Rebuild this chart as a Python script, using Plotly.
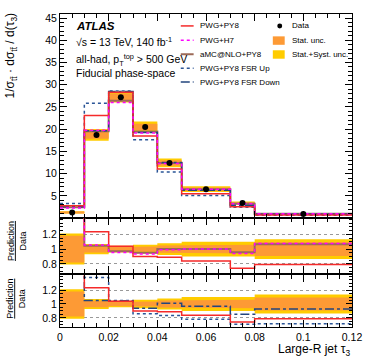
import plotly.graph_objects as go

# ---------------- data ----------------
edges = [0, 0.01, 0.02, 0.03, 0.04, 0.05, 0.07, 0.08, 0.12]
centers = [0.005, 0.015, 0.025, 0.035, 0.045, 0.06, 0.075, 0.10]
data = [1.27, 18.7, 27.2, 20.5, 12.4, 6.5, 3.4, 0.9]
stat_rel = [0.18, 0.045, 0.03, 0.035, 0.05, 0.055, 0.06, 0.095]
tot_rel = [0.21, 0.07, 0.045, 0.06, 0.08, 0.10, 0.10, 0.135]

pwg_py8 = [2.79, 23.09, 28.29, 18.45, 11.04, 5.46, 2.52, 0.711]
pwg_h7 = [2.29, 19.77, 25.98, 19.13, 12.28, 6.50, 3.20, 0.968]
amc_py8 = [2.41, 19.54, 26.38, 19.48, 12.40, 6.50, 3.25, 0.959]
fsr_up = [3.30, 25.81, 28.56, 17.63, 10.35, 5.07, 2.41, 0.645]
fsr_down = [2.54, 19.64, 28.48, 19.27, 12.52, 6.28, 2.90, 0.837]

main_ticks = [5, 10, 15, 20, 25, 30, 35, 40, 45]
ratio_ticks = [0.8, 1, 1.2]
x_ticks = [0, 0.02, 0.04, 0.06, 0.08, 0.1, 0.12]

C_RED = "#f52a2a"
C_MAG = "#ff00ff"
C_BRN = "#9c6a58"
C_UP = "#2b5597"
C_DN = "#23467e"
C_STAT = "#fd9a35"
C_SYST = "#ffcc00"

FONT = "Liberation Sans, Arial, sans-serif"

fig = go.Figure()


def step_xy(vals):
    return edges, list(vals) + [vals[-1]]


def band_poly(lo, hi):
    xs, ys = [], []
    for i in range(len(lo)):
        xs += [edges[i], edges[i + 1]]
        ys += [hi[i], hi[i]]
    for i in reversed(range(len(lo))):
        xs += [edges[i + 1], edges[i]]
        ys += [lo[i], lo[i]]
    return xs, ys


def add_band(rel, color, xa, ya, scale):
    lo = [s * (1 - r) for s, r in zip(scale, rel)]
    hi = [s * (1 + r) for s, r in zip(scale, rel)]
    xs, ys = band_poly(lo, hi)
    fig.add_trace(go.Scatter(x=xs, y=ys, fill="toself", fillcolor=color,
                             line=dict(width=0), mode="lines", xaxis=xa, yaxis=ya,
                             showlegend=False, hoverinfo="skip"))


def add_line(vals, color, dash, width, xa, ya):
    xs, ys = step_xy(vals)
    fig.add_trace(go.Scatter(x=xs, y=ys, mode="lines", line_shape="hv",
                             line=dict(color=color, dash=dash, width=width),
                             xaxis=xa, yaxis=ya, showlegend=False))


ones = [1.0] * len(data)

# main panel
add_band(tot_rel, C_SYST, "x", "y", data)
add_band(stat_rel, C_STAT, "x", "y", data)
add_line(amc_py8, C_BRN, "solid", 2, "x", "y")
add_line(fsr_up, C_UP, "dot", 1.5, "x", "y")
add_line(fsr_down, C_DN, "dashdot", 1.5, "x", "y")
add_line(pwg_py8, C_RED, "solid", 1.5, "x", "y")
add_line(pwg_h7, C_MAG, "dot", 1.5, "x", "y")
fig.add_trace(go.Scatter(x=centers, y=data, mode="markers",
                         marker=dict(color="black", size=6),
                         xaxis="x", yaxis="y", showlegend=False))


def ratio(p):
    return [a / b for a, b in zip(p, data)]


# ratio panel 1
add_band(tot_rel, C_SYST, "x2", "y2", ones)
add_band(stat_rel, C_STAT, "x2", "y2", ones)
add_line(ratio(amc_py8), C_BRN, "solid", 2, "x2", "y2")
add_line(ratio(pwg_py8), C_RED, "solid", 1.5, "x2", "y2")
add_line(ratio(pwg_h7), C_MAG, "dot", 1.5, "x2", "y2")

# ratio panel 2
add_band(tot_rel, C_SYST, "x3", "y3", ones)
add_band(stat_rel, C_STAT, "x3", "y3", ones)
add_line(ratio(fsr_up), C_UP, "dot", 1.5, "x3", "y3")
add_line(ratio(fsr_down), C_DN, "dashdot", 1.5, "x3", "y3")
add_line(ratio(pwg_py8), C_RED, "solid", 1.5, "x3", "y3")

axis_common = dict(showline=True, linecolor="black", linewidth=1, mirror="allticks",
                   ticks="inside", tickcolor="black", zeroline=False,
                   tickfont=dict(family=FONT, size=10.5, color="black"))


def xaxis(anchor, labels):
    d = dict(axis_common)
    d.update(range=[0, 0.12], anchor=anchor, tickvals=x_ticks, ticklen=7,
             showticklabels=labels, showgrid=False,
             minor=dict(ticks="inside", ticklen=4, dtick=0.005, tick0=0, tickcolor="black", showgrid=False))
    if labels:
        d["ticktext"] = ["0", "0.02", "0.04", "0.06", "0.08", "0.1", "0.12"]
    return d


def ratio_y(anchor, dom):
    d = dict(axis_common)
    d.update(range=[0.67, 1.42], domain=dom, anchor=anchor, tickvals=ratio_ticks,
             ticktext=["0.8", "1", "1.2"], ticklen=6, showgrid=True, gridcolor="#999999",
             griddash="dot", gridwidth=1,
             minor=dict(ticks="inside", ticklen=3, dtick=0.05, tick0=0, tickcolor="black", showgrid=False))
    return d


ymain = dict(axis_common)
ymain.update(range=[0, 45.9], domain=[0.348, 1], anchor="x", tickvals=main_ticks, ticklen=7,
             showgrid=False,
             minor=dict(ticks="inside", ticklen=4, dtick=1, tick0=0, tickcolor="black", showgrid=False))

fig.update_layout(
    width=374, height=363,
    margin=dict(l=60, r=19, t=12, b=36),
    paper_bgcolor="white", plot_bgcolor="white",
    font=dict(family=FONT, color="black"),
    xaxis=xaxis("y", False),
    xaxis2=xaxis("y2", False),
    xaxis3=xaxis("y3", True),
    yaxis=ymain,
    yaxis2=ratio_y("x2", [0.171, 0.348]),
    yaxis3=ratio_y("x3", [0.0, 0.167]),
    showlegend=False,
)
fig.layout.xaxis2.matches = "x"
fig.layout.xaxis3.matches = "x"


def px(x):
    return (x - 60) / 295


def py(y):
    return (327 - y) / 315


annots = []


def txt(x, y, s, size, xanchor="left", yanchor="middle", angle=0):
    annots.append(dict(x=x, y=y, xref="paper", yref="paper", text=s, showarrow=False,
                       xanchor=xanchor, yanchor=yanchor, textangle=angle,
                       font=dict(family=FONT, size=size, color="black")))


# top-left labels
txt(px(74), py(24), "<b><i>ATLAS</i></b>", 11.5)
txt(px(74), py(40), "√s = 13 TeV, 140 fb<sup>-1</sup>", 10.5)
txt(px(74), py(58), "all-had, p<sub>T</sub><sup>top</sup> > 500 GeV", 10.5)
txt(px(74), py(71.5), "Fiducial phase-space", 10.5)

# axis titles
txt(px(11), py(8), "1/σ<sub>tt̄</sub> · dσ<sub>tt̄</sub> / d(τ<sub>3</sub>)", 12,
    xanchor="center", yanchor="top", angle=-90)
txt(px(16), py(240), "<u>Prediction</u><br>Data", 9, xanchor="center", angle=-90)
txt(px(16), py(298), "<u>Prediction</u><br>Data", 9, xanchor="center", angle=-90)
txt(1.0, py(350), "Large-R jet τ<sub>3</sub>", 12, xanchor="right")

# legend (left column)
leg_rows = [24, 38.5, 52.5, 66.5, 80.5]
leg_items = [("PWG+PY8", C_RED, "solid", 1.5), ("PWG+H7", C_MAG, "dot", 1.5),
             ("aMC@NLO+PY8", C_BRN, "solid", 2), ("PWG+PY8 FSR Up", C_UP, "dot", 1.5),
             ("PWG+PY8 FSR Down", C_DN, "dashdot", 1.5)]
shapes = []
for (name, col, dash, w), r in zip(leg_items, leg_rows):
    shapes.append(dict(type="line", xref="paper", yref="paper", x0=px(182), x1=px(195),
                       y0=py(r), y1=py(r), line=dict(color=col, dash=dash, width=w)))
    txt(px(199), py(r), name, 8)

# legend (right column)
shapes.append(dict(type="circle", xref="paper", yref="paper", x0=px(279.5), x1=px(284.5),
                   y0=py(21.5), y1=py(26.5), fillcolor="black", line=dict(width=0)))
txt(px(292), py(24), "Data", 8)
shapes.append(dict(type="rect", xref="paper", yref="paper", x0=px(275), x1=px(287),
                   y0=py(34.5), y1=py(43), fillcolor=C_STAT, line=dict(width=0)))
txt(px(292), py(38.5), "Stat. unc.", 8)
shapes.append(dict(type="rect", xref="paper", yref="paper", x0=px(275), x1=px(287),
                   y0=py(48.5), y1=py(57), fillcolor=C_SYST, line=dict(width=0)))
txt(px(292), py(52.5), "Stat.+Syst. unc.", 8)

fig.update_layout(annotations=annots, shapes=shapes)

fig.write_html("out.html", config={"displayModeBar": False},
               post_script="document.body.style.margin='0px';")
